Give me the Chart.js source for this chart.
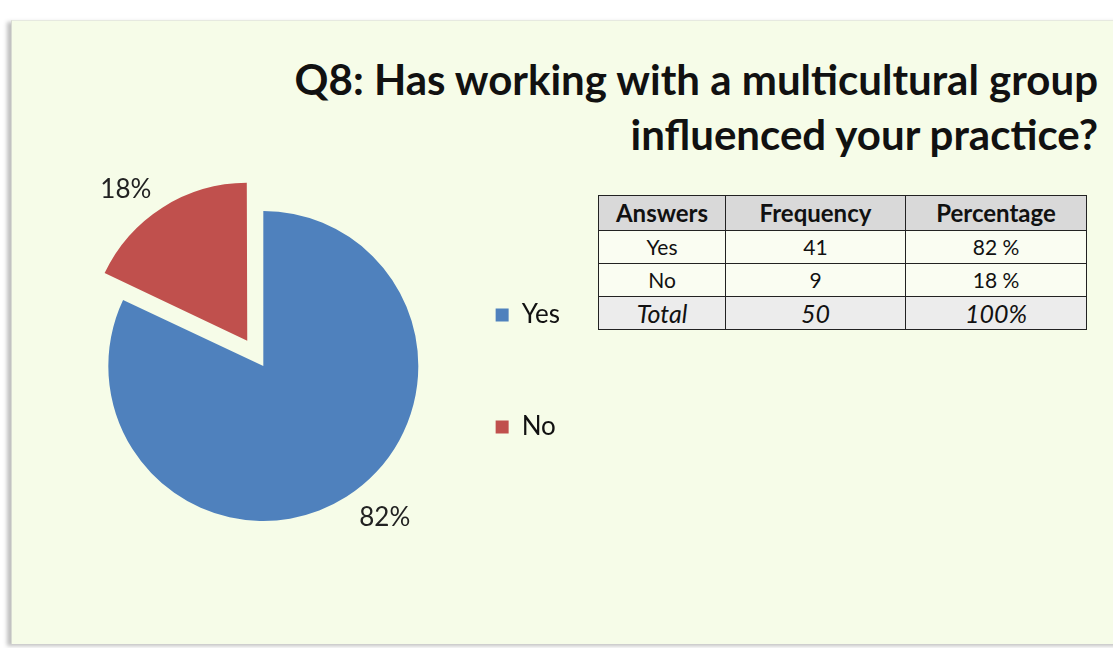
<!DOCTYPE html>
<html>
<head>
<meta charset="utf-8">
<script src="https://cdn.jsdelivr.net/npm/chart.js@4/dist/chart.umd.min.js"></script>
<style>
  html, body { margin: 0; padding: 0; background: #fff; }
  body { width: 1113px; height: 648px; position: relative; overflow: hidden; font-family: Lato, "Open Sans", sans-serif; }
  #panel {
    position: absolute; left: 11px; top: 20px; width: 1110px; height: 623px;
    background: #f6fce8;
    border-top: 1px solid #e6e9e0;
    border-left: 1px solid #d8dbd2;
    box-shadow: -4px 2px 4px rgba(0,0,0,0.25);
  }
  #title {
    position: absolute; right: 15px; top: 52px;
    text-align: right; font-weight: bold; font-size: 42px; line-height: 55px; color: #111;
  }
  #wrap { position: absolute; left: 61px; top: 146px; width: 509px; height: 440px; }
  table {
    position: absolute; left: 598px; top: 195px;
    border-collapse: collapse; font-size: 21px; color: #111;
  }
  td, th { border: 1.5px solid #222; text-align: center; padding: 0; height: 32px; line-height: 28px; }
  th { background: #d9d9d9; font-size: 24px; height: 34px; }
  td { background: #fafdf2; }
  tr.total td { background: #ececec; font-style: italic; font-size: 25px; }
</style>
</head>
<body>
<div id="panel"></div>
<div id="title">Q8: Has working with a multicultural group<br>influenced your practice?</div>
<div id="wrap"><canvas id="pie"></canvas></div>
<table id="tbl"></table>
<script>
const categories = ['Yes', 'No'];
const frequency = [41, 9];
const percentage = [82, 18];
const colors = ['#4f81bd', '#c0504d'];
const tableHeader = ['Answers', 'Frequency', 'Percentage'];
const totalRow = ['Total', '50', '100%'];

// table beside the pie
function buildTable() {
    const tbl = document.getElementById('tbl');
    const widths = [126, 179, 180];
    let html = '<tr>' + tableHeader.map((h, i) => `<th style="width:${widths[i]}px">${h}</th>`).join('') + '</tr>';
    categories.forEach((c, i) => {
        html += `<tr><td>${c}</td><td>${frequency[i]}</td><td>${percentage[i]} %</td></tr>`;
    });
    html += '<tr class="total">' + totalRow.map(t => `<td>${t}</td>`).join('') + '</tr>';
    tbl.innerHTML = html;
}

// percent labels just outside each slice
const sliceLabels = {
    id: 'sliceLabels',
    afterDatasetsDraw(chart) {
        const ctx = chart.ctx;
        const meta = chart.getDatasetMeta(0);
        ctx.save();
        ctx.font = '26px Lato, "Open Sans", sans-serif';
        ctx.fillStyle = '#222';
        ctx.textBaseline = 'middle';
        meta.data.forEach((arc, i) => {
            const p = arc.getProps(['x', 'y', 'startAngle', 'endAngle', 'outerRadius'], true);
            const mid = (p.startAngle + p.endAngle) / 2;
            const shift = (arc.options.offset || 0) / 4;
            const r = p.outerRadius + 24 + shift;
            const x = p.x + Math.cos(mid) * r;
            const y = p.y + Math.sin(mid) * r;
            ctx.textAlign = Math.cos(mid) >= 0 ? 'left' : 'right';
            ctx.fillText(percentage[i] + '%', x, y);
        });
        ctx.restore();
    }
};

function createChart() {
    const ctx = document.getElementById('pie').getContext('2d');
    new Chart(ctx, {
        type: 'pie',
        data: {
            labels: categories,
            datasets: [{
                data: percentage,
                backgroundColor: colors,
                borderWidth: 0,
                offset: [0, 120]
            }]
        },
        options: {
            responsive: true,
            maintainAspectRatio: false,
            animation: false,
            radius: 155,
            layout: { padding: 0 },
            plugins: {
                tooltip: { enabled: false },
                legend: {
                    position: 'right',
                    // empty title only nudges the entries down a little
                    title: { display: true, text: ' ', font: { size: 1 }, padding: { top: 5, bottom: 4 } },
                    labels: {
                        color: '#111',
                        font: { size: 26, family: 'Lato, "Open Sans", sans-serif' },
                        boxWidth: 13,
                        boxHeight: 13,
                        padding: 30,
                        // blank entry between Yes and No to space them like the original
                        generateLabels(chart) {
                            const items = Chart.overrides.pie.plugins.legend.labels.generateLabels(chart);
                            items.forEach(it => { it.lineWidth = 0; });
                            const spacer = { text: '', fillStyle: 'rgba(0,0,0,0)', strokeStyle: 'rgba(0,0,0,0)', lineWidth: 0, hidden: false, index: -1 };
                            return [items[0], spacer, items[1]];
                        }
                    }
                }
            }
        },
        plugins: [sliceLabels]
    });
}

document.addEventListener('DOMContentLoaded', () => {
    buildTable();
    createChart();
});
</script>
</body>
</html>
